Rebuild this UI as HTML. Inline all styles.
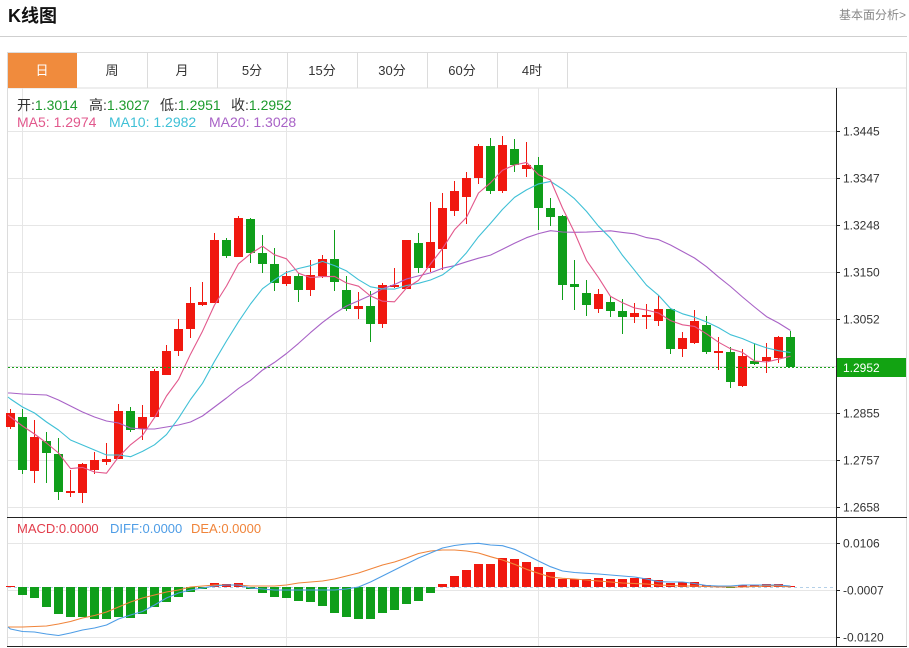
<!DOCTYPE html>
<html>
<head>
<meta charset="utf-8">
<style>
html,body{margin:0;padding:0;background:#fff;}
body{width:909px;height:648px;overflow:hidden;}
svg{display:block;font-family:"Liberation Sans","Noto Sans CJK SC",sans-serif;}
</style>
</head>
<body>
<svg width="909" height="648" viewBox="0 0 909 648" xmlns="http://www.w3.org/2000/svg">
<!-- header -->
<text x="8" y="22" font-size="18" font-weight="bold" fill="#111">K线图</text>
<text x="906" y="19" font-size="12" fill="#888" text-anchor="end">基本面分析&gt;</text>
<line x1="0" y1="36.5" x2="907" y2="36.5" stroke="#cfcfcf"/>

<!-- tabs -->
<rect x="7.5" y="52.5" width="899" height="35.5" fill="#fff" stroke="#dcdcdc"/>
<rect x="8" y="53" width="69" height="35" fill="#f08b3d"/>
<g stroke="#dcdcdc">
<line x1="147.5" y1="53" x2="147.5" y2="88"/>
<line x1="217.5" y1="53" x2="217.5" y2="88"/>
<line x1="287.5" y1="53" x2="287.5" y2="88"/>
<line x1="357.5" y1="53" x2="357.5" y2="88"/>
<line x1="427.5" y1="53" x2="427.5" y2="88"/>
<line x1="497.5" y1="53" x2="497.5" y2="88"/>
<line x1="567.5" y1="53" x2="567.5" y2="88"/>
</g>
<g font-size="13" text-anchor="middle" fill="#333">
<text x="42" y="75" fill="#fff">日</text>
<text x="112" y="75">周</text>
<text x="182" y="75">月</text>
<text x="252" y="75">5分</text>
<text x="322" y="75">15分</text>
<text x="392" y="75">30分</text>
<text x="462" y="75">60分</text>
<text x="532" y="75">4时</text>
</g>

<!-- chart frame -->
<line x1="7.5" y1="88" x2="7.5" y2="647" stroke="#dcdcdc"/>
<line x1="906.5" y1="88" x2="906.5" y2="647" stroke="#dcdcdc"/>

<!-- grid -->
<g stroke="#e6e6e6" shape-rendering="crispEdges">
<line x1="8" y1="131.5" x2="836" y2="131.5"/>
<line x1="8" y1="178.5" x2="836" y2="178.5"/>
<line x1="8" y1="225.5" x2="836" y2="225.5"/>
<line x1="8" y1="272.5" x2="836" y2="272.5"/>
<line x1="8" y1="319.5" x2="836" y2="319.5"/>
<line x1="8" y1="366.5" x2="836" y2="366.5"/>
<line x1="8" y1="413.5" x2="836" y2="413.5"/>
<line x1="8" y1="460.5" x2="836" y2="460.5"/>
<line x1="8" y1="507.5" x2="836" y2="507.5"/>
<line x1="8" y1="543.5" x2="836" y2="543.5"/>
<line x1="8" y1="590.5" x2="836" y2="590.5"/>
<line x1="8" y1="637.5" x2="836" y2="637.5"/>
<line x1="22.5" y1="88" x2="22.5" y2="646"/>
<line x1="286.5" y1="88" x2="286.5" y2="646"/>
<line x1="538.5" y1="88" x2="538.5" y2="646"/>
</g>

<!-- info text -->
<g font-size="14">
<text x="17" y="110" fill="#333">开:<tspan fill="#1c9a2c">1.3014</tspan></text>
<text x="89" y="110" fill="#333">高:<tspan fill="#1c9a2c">1.3027</tspan></text>
<text x="160" y="110" fill="#333">低:<tspan fill="#1c9a2c">1.2951</tspan></text>
<text x="231" y="110" fill="#333">收:<tspan fill="#1c9a2c">1.2952</tspan></text>
<text x="17" y="127" fill="#e2588c">MA5: 1.2974</text>
<text x="109" y="127" fill="#3fc0d6">MA10: 1.2982</text>
<text x="209" y="127" fill="#a862c6">MA20: 1.3028</text>
</g>
<g font-size="13">
<text x="17" y="533" fill="#e23c4a">MACD:0.0000</text>
<text x="110" y="533" fill="#4e9de6">DIFF:0.0000</text>
<text x="191" y="533" fill="#f0843a">DEA:0.0000</text>
</g>

<!-- candles red -->
<g fill="#f0180f" shape-rendering="crispEdges">
<rect x="10" y="409" width="1" height="20"/><rect x="6" y="413" width="9" height="14"/>
<rect x="34" y="420" width="1" height="63"/><rect x="30" y="437" width="9" height="34"/>
<rect x="70" y="470" width="1" height="27"/><rect x="66" y="491" width="9" height="2"/>
<rect x="82" y="463" width="1" height="40"/><rect x="78" y="464" width="9" height="29"/>
<rect x="94" y="452" width="1" height="22"/><rect x="90" y="460" width="9" height="10"/>
<rect x="106" y="443" width="1" height="22"/><rect x="102" y="459" width="9" height="3"/>
<rect x="118" y="404" width="1" height="55"/><rect x="114" y="411" width="9" height="48"/>
<rect x="142" y="405" width="1" height="35"/><rect x="138" y="417" width="9" height="12"/>
<rect x="154" y="369" width="1" height="48"/><rect x="150" y="371" width="9" height="46"/>
<rect x="166" y="345" width="1" height="30"/><rect x="162" y="351" width="9" height="24"/>
<rect x="178" y="319" width="1" height="37"/><rect x="174" y="329" width="9" height="22"/>
<rect x="190" y="287" width="1" height="51"/><rect x="186" y="303" width="9" height="26"/>
<rect x="202" y="282" width="1" height="24"/><rect x="198" y="302" width="9" height="3"/>
<rect x="214" y="233" width="1" height="70"/><rect x="210" y="240" width="9" height="63"/>
<rect x="238" y="216" width="1" height="41"/><rect x="234" y="218" width="9" height="39"/>
<rect x="286" y="271" width="1" height="15"/><rect x="282" y="276" width="9" height="8"/>
<rect x="310" y="260" width="1" height="36"/><rect x="306" y="275" width="9" height="15"/>
<rect x="322" y="255" width="1" height="23"/><rect x="318" y="259" width="9" height="17"/>
<rect x="358" y="292" width="1" height="27"/><rect x="354" y="306" width="9" height="3"/>
<rect x="382" y="283" width="1" height="45"/><rect x="378" y="285" width="9" height="39"/>
<rect x="394" y="268" width="1" height="20"/><rect x="390" y="285" width="9" height="2"/>
<rect x="406" y="240" width="1" height="49"/><rect x="402" y="240" width="9" height="49"/>
<rect x="430" y="202" width="1" height="70"/><rect x="426" y="242" width="9" height="26"/>
<rect x="442" y="193" width="1" height="77"/><rect x="438" y="208" width="9" height="41"/>
<rect x="454" y="181" width="1" height="35"/><rect x="450" y="191" width="9" height="20"/>
<rect x="466" y="172" width="1" height="52"/><rect x="462" y="178" width="9" height="19"/>
<rect x="478" y="144" width="1" height="40"/><rect x="474" y="146" width="9" height="32"/>
<rect x="502" y="136" width="1" height="57"/><rect x="498" y="145" width="9" height="46"/>
<rect x="526" y="142" width="1" height="35"/><rect x="522" y="165" width="9" height="4"/>
<rect x="598" y="289" width="1" height="24"/><rect x="594" y="294" width="9" height="15"/>
<rect x="634" y="303" width="1" height="20"/><rect x="630" y="313" width="9" height="4"/>
<rect x="646" y="304" width="1" height="25"/><rect x="642" y="315" width="9" height="2"/>
<rect x="658" y="295" width="1" height="31"/><rect x="654" y="309" width="9" height="12"/>
<rect x="682" y="332" width="1" height="25"/><rect x="678" y="338" width="9" height="11"/>
<rect x="694" y="310" width="1" height="34"/><rect x="690" y="321" width="9" height="22"/>
<rect x="718" y="337" width="1" height="33"/><rect x="714" y="351" width="9" height="2"/>
<rect x="742" y="349" width="1" height="38"/><rect x="738" y="356" width="9" height="30"/>
<rect x="766" y="343" width="1" height="30"/><rect x="762" y="357" width="9" height="4"/>
<rect x="778" y="336" width="1" height="27"/><rect x="774" y="337" width="9" height="21"/>
</g>
<!-- candles green -->
<g fill="#0f9e1a" shape-rendering="crispEdges">
<rect x="22" y="409" width="1" height="65"/><rect x="18" y="417" width="9" height="53"/>
<rect x="46" y="432" width="1" height="51"/><rect x="42" y="441" width="9" height="12"/>
<rect x="58" y="438" width="1" height="62"/><rect x="54" y="454" width="9" height="38"/>
<rect x="130" y="407" width="1" height="25"/><rect x="126" y="411" width="9" height="19"/>
<rect x="226" y="238" width="1" height="20"/><rect x="222" y="240" width="9" height="16"/>
<rect x="250" y="218" width="1" height="45"/><rect x="246" y="219" width="9" height="34"/>
<rect x="262" y="235" width="1" height="38"/><rect x="258" y="253" width="9" height="11"/>
<rect x="274" y="248" width="1" height="43"/><rect x="270" y="264" width="9" height="19"/>
<rect x="298" y="273" width="1" height="29"/><rect x="294" y="276" width="9" height="14"/>
<rect x="334" y="230" width="1" height="61"/><rect x="330" y="259" width="9" height="23"/>
<rect x="346" y="276" width="1" height="35"/><rect x="342" y="290" width="9" height="19"/>
<rect x="370" y="291" width="1" height="51"/><rect x="366" y="306" width="9" height="18"/>
<rect x="418" y="233" width="1" height="40"/><rect x="414" y="243" width="9" height="25"/>
<rect x="490" y="138" width="1" height="56"/><rect x="486" y="146" width="9" height="45"/>
<rect x="514" y="139" width="1" height="33"/><rect x="510" y="149" width="9" height="16"/>
<rect x="538" y="157" width="1" height="73"/><rect x="534" y="165" width="9" height="43"/>
<rect x="550" y="198" width="1" height="28"/><rect x="546" y="208" width="9" height="9"/>
<rect x="562" y="215" width="1" height="85"/><rect x="558" y="216" width="9" height="69"/>
<rect x="574" y="260" width="1" height="50"/><rect x="570" y="284" width="9" height="3"/>
<rect x="586" y="280" width="1" height="36"/><rect x="582" y="293" width="9" height="12"/>
<rect x="610" y="296" width="1" height="21"/><rect x="606" y="302" width="9" height="9"/>
<rect x="622" y="299" width="1" height="35"/><rect x="618" y="311" width="9" height="6"/>
<rect x="670" y="308" width="1" height="46"/><rect x="666" y="309" width="9" height="40"/>
<rect x="706" y="316" width="1" height="38"/><rect x="702" y="325" width="9" height="27"/>
<rect x="730" y="347" width="1" height="41"/><rect x="726" y="352" width="9" height="30"/>
<rect x="754" y="343" width="1" height="22"/><rect x="750" y="361" width="9" height="3"/>
<rect x="790" y="331" width="1" height="36"/><rect x="786" y="337" width="9" height="30"/>
</g>

<!-- MA lines -->
<g fill="none" stroke-width="1.1" stroke-linejoin="round">
<polyline stroke="#a862c6" points="8,393 10.5,393 22.5,394 34.5,394.5 46.5,395 58.5,400 70.5,406 82.5,412 94.5,417 106.5,421 118.5,423 130.5,428 142.5,429 154.5,429 166.5,427 178.5,425 190.5,422 202.5,416 214.5,407 226.5,398 238.5,388.4 250.5,380.4 262.5,370.1 274.5,362.4 286.5,353.5 298.5,343.4 310.5,332.6 322.5,322.4 334.5,313.5 346.5,306 358.5,300.7 370.5,295.4 382.5,288.8 394.5,284.5 406.5,279 418.5,275.9 430.5,272.9 442.5,268.2 454.5,265.7 466.5,261.8 478.5,258.2 490.5,255.1 502.5,249.2 514.5,243.3 526.5,237.7 538.5,233.6 550.5,230.7 562.5,232 574.5,232.3 586.5,232.1 598.5,231.5 610.5,230.8 622.5,232.4 634.5,233.8 646.5,237.6 658.5,239.6 670.5,245 682.5,251.5 694.5,258 706.5,266.7 718.5,276.9 730.5,286.5 742.5,297 754.5,307 766.5,316.6 778.5,323 790.5,330.5"/>
<polyline stroke="#3fc0d6" points="8,397 10.5,399 22.5,407 34.5,413 46.5,422 58.5,430 70.5,440 82.5,445 94.5,450 106.5,455 118.5,455 130.5,456.7 142.5,451.4 154.5,444.8 166.5,434.6 178.5,418.3 190.5,399.5 202.5,383.3 214.5,361.3 226.5,341 238.5,321.7 250.5,304 262.5,288.7 274.5,279.9 286.5,272.4 298.5,268.5 310.5,265.7 322.5,261.4 334.5,265.6 346.5,270.9 358.5,279.7 370.5,286.8 382.5,288.9 394.5,289.1 406.5,285.5 418.5,283.3 430.5,280 442.5,274.9 454.5,265.8 466.5,252.7 478.5,236.7 490.5,223.4 502.5,209.4 514.5,197.4 526.5,189.9 538.5,183.9 550.5,181.4 562.5,189.1 574.5,198.7 586.5,211.4 598.5,226.2 610.5,238.2 622.5,255.4 634.5,270.2 646.5,285.2 658.5,295.3 670.5,308.5 682.5,313.8 694.5,317.2 706.5,321.9 718.5,327.6 730.5,334.7 742.5,338.6 754.5,343.7 766.5,347.9 778.5,350.7 790.5,352.5"/>
<polyline stroke="#e2588c" points="8,415 10.5,417 22.5,426 34.5,434 46.5,443 58.5,453 70.5,468.6 82.5,467.4 94.5,472 106.5,473.2 118.5,457 130.5,444.8 142.5,435.4 154.5,417.6 166.5,396 178.5,379.6 190.5,354.2 202.5,331.2 214.5,305 226.5,286 238.5,263.8 250.5,253.8 262.5,246.2 274.5,254.8 286.5,258.8 298.5,273.2 310.5,277.6 322.5,276.6 334.5,276.4 346.5,283 358.5,286.2 370.5,296 382.5,301.2 394.5,301.8 406.5,288 418.5,280.4 430.5,264 442.5,248.6 454.5,229.8 466.5,217.4 478.5,193 490.5,182.8 502.5,170.2 514.5,165 526.5,162.4 538.5,174.8 550.5,180 562.5,208 574.5,232.4 586.5,260.4 598.5,277.6 610.5,296.4 622.5,302.8 634.5,308 646.5,310 658.5,313 670.5,320.6 682.5,324.8 694.5,326.4 706.5,333.8 718.5,342.2 730.5,348.8 742.5,352.4 754.5,361 766.5,362 778.5,359.2 790.5,356.2"/>
</g>

<!-- current price dotted line -->
<line x1="8" y1="367.5" x2="836" y2="367.5" stroke="#1aa01a" stroke-dasharray="2,2"/>

<!-- MACD zero dashed -->
<line x1="8" y1="587.5" x2="836" y2="587.5" stroke="#b4d0e8" stroke-dasharray="3,3"/>

<!-- MACD bars green -->
<g fill="#0f9e1a" shape-rendering="crispEdges">
<rect x="18" y="587" width="9" height="8"/>
<rect x="30" y="587" width="9" height="11"/>
<rect x="42" y="587" width="9" height="20"/>
<rect x="54" y="587" width="9" height="27"/>
<rect x="66" y="587" width="9" height="30"/>
<rect x="78" y="587" width="9" height="30"/>
<rect x="90" y="587" width="9" height="32"/>
<rect x="102" y="587" width="9" height="32"/>
<rect x="114" y="587" width="9" height="30"/>
<rect x="126" y="587" width="9" height="31"/>
<rect x="138" y="587" width="9" height="27"/>
<rect x="150" y="587" width="9" height="20"/>
<rect x="162" y="587" width="9" height="15"/>
<rect x="174" y="587" width="9" height="10"/>
<rect x="186" y="587" width="9" height="5"/>
<rect x="198" y="587" width="9" height="2"/>
<rect x="246" y="587" width="9" height="2"/>
<rect x="258" y="587" width="9" height="6"/>
<rect x="270" y="587" width="9" height="10"/>
<rect x="282" y="587" width="9" height="11"/>
<rect x="294" y="587" width="9" height="14"/>
<rect x="306" y="587" width="9" height="15"/>
<rect x="318" y="587" width="9" height="19"/>
<rect x="330" y="587" width="9" height="26"/>
<rect x="342" y="587" width="9" height="30"/>
<rect x="354" y="587" width="9" height="32"/>
<rect x="366" y="587" width="9" height="32"/>
<rect x="378" y="587" width="9" height="26"/>
<rect x="390" y="587" width="9" height="23"/>
<rect x="402" y="587" width="9" height="17"/>
<rect x="414" y="587" width="9" height="14"/>
<rect x="426" y="587" width="9" height="6"/>
<rect x="726" y="587" width="9" height="1"/>
</g>
<!-- MACD bars red -->
<g fill="#f0180f" shape-rendering="crispEdges">
<rect x="6" y="586" width="9" height="1"/>
<rect x="210" y="583" width="9" height="4"/>
<rect x="222" y="584" width="9" height="3"/>
<rect x="234" y="583" width="9" height="4"/>
<rect x="438" y="584" width="9" height="3"/>
<rect x="450" y="576" width="9" height="11"/>
<rect x="462" y="570" width="9" height="17"/>
<rect x="474" y="564" width="9" height="23"/>
<rect x="486" y="564" width="9" height="23"/>
<rect x="498" y="558" width="9" height="29"/>
<rect x="510" y="559" width="9" height="28"/>
<rect x="522" y="562" width="9" height="25"/>
<rect x="534" y="567" width="9" height="20"/>
<rect x="546" y="572" width="9" height="15"/>
<rect x="558" y="579" width="9" height="8"/>
<rect x="570" y="579" width="9" height="8"/>
<rect x="582" y="579" width="9" height="8"/>
<rect x="594" y="578" width="9" height="9"/>
<rect x="606" y="579" width="9" height="8"/>
<rect x="618" y="579" width="9" height="8"/>
<rect x="630" y="578" width="9" height="9"/>
<rect x="642" y="578" width="9" height="9"/>
<rect x="654" y="580" width="9" height="7"/>
<rect x="666" y="583" width="9" height="4"/>
<rect x="678" y="582" width="9" height="5"/>
<rect x="690" y="582" width="9" height="5"/>
<rect x="702" y="585" width="9" height="2"/>
<rect x="714" y="586" width="9" height="1"/>
<rect x="738" y="585" width="9" height="2"/>
<rect x="750" y="585" width="9" height="2"/>
<rect x="762" y="584" width="9" height="3"/>
<rect x="774" y="584" width="9" height="3"/>
<rect x="786" y="586" width="9" height="1"/>
</g>

<!-- DIFF / DEA -->
<g fill="none" stroke-width="1.1" stroke-linejoin="round">
<polyline stroke="#f0843a" points="8,627 10.5,627 22.5,627 34.5,626.5 46.5,626 58.5,624 70.5,621.5 82.5,618 94.5,615.5 106.5,612 118.5,607 130.5,602 142.5,598 154.5,595 166.5,592 178.5,590 190.5,587 202.5,586 214.5,585 226.5,585 238.5,585 250.5,586 262.5,586 274.5,586 286.5,585 298.5,583 310.5,582 322.5,581 334.5,579 346.5,576 358.5,573 370.5,569 382.5,565 394.5,562 406.5,558 418.5,553.5 430.5,551 442.5,550 454.5,550 466.5,551 478.5,553 490.5,556.7 502.5,560 514.5,564.3 526.5,569.3 538.5,573.3 550.5,577 562.5,578.3 574.5,579 586.5,580 598.5,581 610.5,582 622.5,583 634.5,583.5 646.5,584 658.5,585 670.5,585.5 682.5,586 694.5,586 706.5,586.5 718.5,587 730.5,587 742.5,587 754.5,586.5 766.5,586 778.5,586 790.5,587"/>
<polyline stroke="#4e9de6" points="8,627 10.5,629 22.5,631.5 34.5,632 46.5,634 58.5,635.5 70.5,633 82.5,630 94.5,628 106.5,625 118.5,619 130.5,615 142.5,611.5 154.5,605 166.5,598 178.5,593 190.5,590 202.5,588 214.5,586 226.5,585 238.5,585 250.5,588 262.5,589 274.5,590 286.5,590 298.5,590 310.5,590 322.5,590 334.5,590 346.5,589 358.5,587 370.5,582 382.5,576 394.5,570 406.5,564 418.5,558 430.5,553 442.5,548 454.5,545.5 466.5,544 478.5,543.3 490.5,545 502.5,545.7 514.5,549.3 526.5,555 538.5,561 550.5,566.7 562.5,571 574.5,572.5 586.5,573.3 598.5,574 610.5,575 622.5,576 634.5,577 646.5,579 658.5,581.7 670.5,582 682.5,582 694.5,583.5 706.5,585.5 718.5,586 730.5,586 742.5,585 754.5,585 766.5,585 778.5,585 790.5,586"/>
</g>

<!-- axes -->
<line x1="836.5" y1="88" x2="836.5" y2="647" stroke="#222"/>
<line x1="7" y1="517.5" x2="907" y2="517.5" stroke="#222"/>
<line x1="7" y1="646.5" x2="907" y2="646.5" stroke="#222"/>
<g stroke="#222" shape-rendering="crispEdges">
<line x1="836" y1="131.5" x2="840" y2="131.5"/>
<line x1="836" y1="178.5" x2="840" y2="178.5"/>
<line x1="836" y1="225.5" x2="840" y2="225.5"/>
<line x1="836" y1="272.5" x2="840" y2="272.5"/>
<line x1="836" y1="319.5" x2="840" y2="319.5"/>
<line x1="836" y1="413.5" x2="840" y2="413.5"/>
<line x1="836" y1="460.5" x2="840" y2="460.5"/>
<line x1="836" y1="507.5" x2="840" y2="507.5"/>
<line x1="836" y1="543.5" x2="840" y2="543.5"/>
<line x1="836" y1="590.5" x2="840" y2="590.5"/>
<line x1="836" y1="637.5" x2="840" y2="637.5"/>
</g>
<g font-size="12" fill="#333">
<text x="843" y="135.5">1.3445</text>
<text x="843" y="182.5">1.3347</text>
<text x="843" y="229.5">1.3248</text>
<text x="843" y="276.5">1.3150</text>
<text x="843" y="323.5">1.3052</text>
<text x="843" y="417.5">1.2855</text>
<text x="843" y="464.5">1.2757</text>
<text x="843" y="511.5">1.2658</text>
<text x="843" y="547.5">0.0106</text>
<text x="843" y="594.5">-0.0007</text>
<text x="843" y="641.5">-0.0120</text>
</g>
<rect x="837" y="358" width="69" height="19" fill="#12a312"/>
<text x="843" y="372" font-size="12" fill="#fff">1.2952</text>
</svg>
</body>
</html>
